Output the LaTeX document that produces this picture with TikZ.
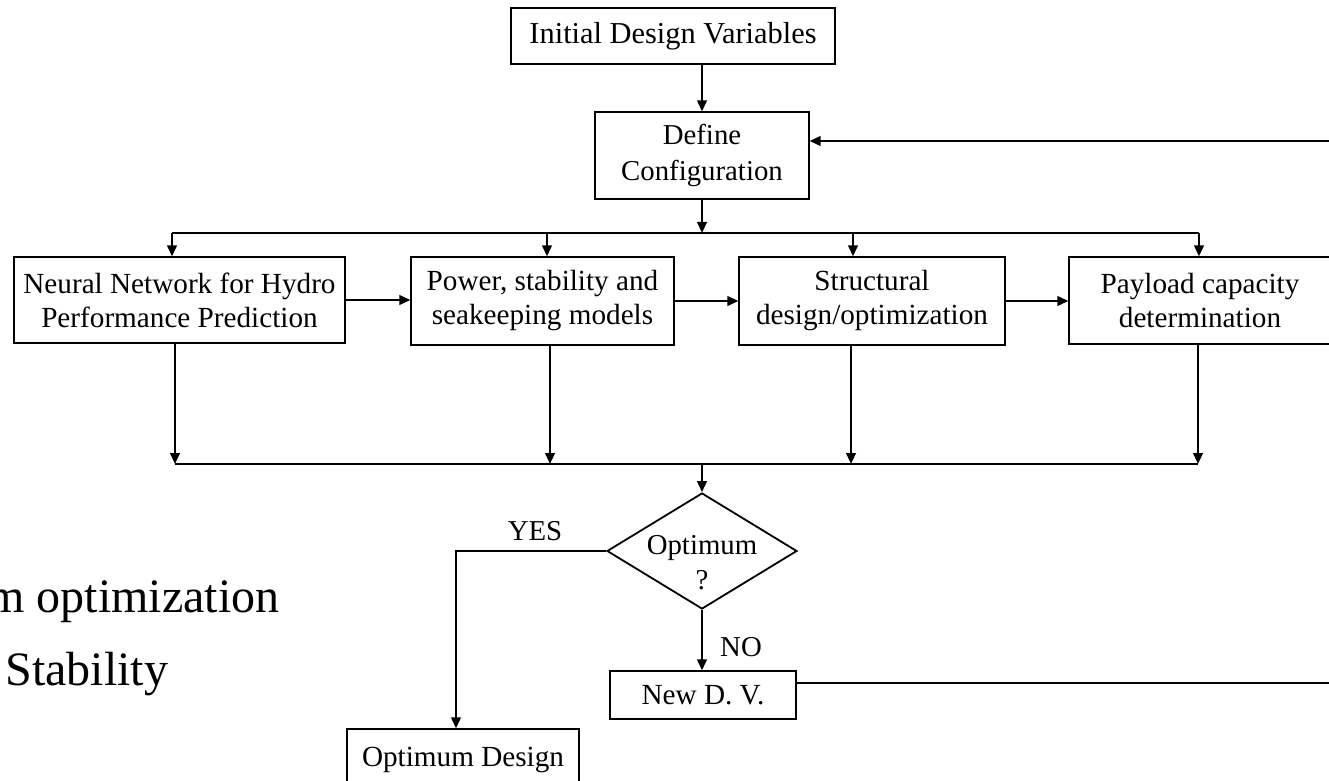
\documentclass[tikz,border=0pt]{standalone}
\usepackage{fontspec}
\setmainfont{Liberation Serif}
\usetikzlibrary{shapes.geometric,arrows.meta}
\begin{document}
\begin{tikzpicture}[x=0.5pt,y=-0.5pt,
  box/.style={draw, line width=0.6pt, inner sep=0pt, align=center, font=\fontsize{14.6}{17}\selectfont},
  conn/.style={line width=1.1pt},
  arr/.style={conn, -{Triangle[length=5.5pt,width=4.8pt]}},
  lbl/.style={font=\fontsize{14.4}{17}\selectfont, inner sep=0pt},
  big/.style={font=\fontsize{24}{28}\selectfont, inner sep=0pt, anchor=base west}
]
\useasboundingbox (0,0) rectangle (1329,781);
\clip (0,0) rectangle (1329,781);

% nodes
\node[box, minimum width=162pt, minimum height=28pt, font=\fontsize{15.2}{18}\selectfont] (title) at (673,36) {Initial Design Variables};
\node[box, minimum width=107pt, minimum height=43.5pt, font=\fontsize{14.4}{18}\selectfont] (define) at (702,155.5) {Define\\Configuration};
\node[box, minimum width=165.5pt, minimum height=43pt] (nn) at (179.5,300) {Neural Network for Hydro\\Performance Prediction};
\node[box, minimum width=131.5pt, minimum height=44pt] (power) at (542.5,301) {Power, stability and\\seakeeping models};
\node[box, minimum width=133pt, minimum height=44pt] (struct) at (872,301) {Structural\\design/optimization};
\node[box, minimum width=131pt, minimum height=43.5pt] (payload) at (1200,300.5) {Payload capacity\\determination};
\node[diamond, draw, line width=0.9pt, minimum width=95pt, minimum height=58pt, inner sep=0pt] (opt) at (702,551) {};
\node[lbl, align=center, font=\fontsize{14.4}{17.5}\selectfont] (opttext) at ([yshift=-6pt]opt.center) {Optimum\\?};
\node[box, minimum width=93pt, minimum height=24pt] (newdv) at (703,695) {New D.\ V.};
\node[box, minimum width=116pt, minimum height=30.5pt] (optdes) at (463,759.5) {Optimum Design};
\node[lbl] (yes) at (535,531) {YES};
\node[lbl] (no) at (741,647) {NO};
\node[big] (t1) at (-13,612) {m optimization};
\node[big] (t2) at (5,685) {Stability};

% coordinates
\coordinate (fbt) at (1340,141);
\coordinate (fbb) at (1340,683);
\coordinate (ta) at (172,233);
\coordinate (tb) at (547,233);
\coordinate (tc) at (853,233);
\coordinate (td) at (1199,233);
\coordinate (ba) at (175,464);
\coordinate (bb) at (550,464);
\coordinate (bc) at (851,464);
\coordinate (bd) at (1198,464);
\coordinate (bm) at (702,464);
\coordinate (yx) at (456,0);

% connectors
\draw[arr] (title.south -| define.north) -- (define.north);
\draw[arr] (fbt) -- (fbt -| define.east);
\draw[conn] (newdv.east |- fbb) -- (fbb);
\draw[arr] (define.south) -- (define.south |- ta);
\draw[conn] (ta) -- (td);
\draw[arr] (ta) -- (ta |- nn.north);
\draw[arr] (tb) -- (tb |- power.north);
\draw[arr] (tc) -- (tc |- struct.north);
\draw[arr] (td) -- (td |- payload.north);
\draw[arr] (nn.east) -- (nn.east -| power.west);
\draw[arr] (power.east) -- (power.east -| struct.west);
\draw[arr] (struct.east) -- (struct.east -| payload.west);
\draw[arr] (ba |- nn.south) -- (ba);
\draw[arr] (bb |- power.south) -- (bb);
\draw[arr] (bc |- struct.south) -- (bc);
\draw[arr] (bd |- payload.south) -- (bd);
\draw[conn] (ba) -- (bd);
\draw[arr] (bm) -- (opt.north);
\draw[arr] (opt.west) -| (yx |- optdes.north);
\draw[arr] (opt.south) -- (opt.south |- newdv.north);
\end{tikzpicture}
\end{document}
